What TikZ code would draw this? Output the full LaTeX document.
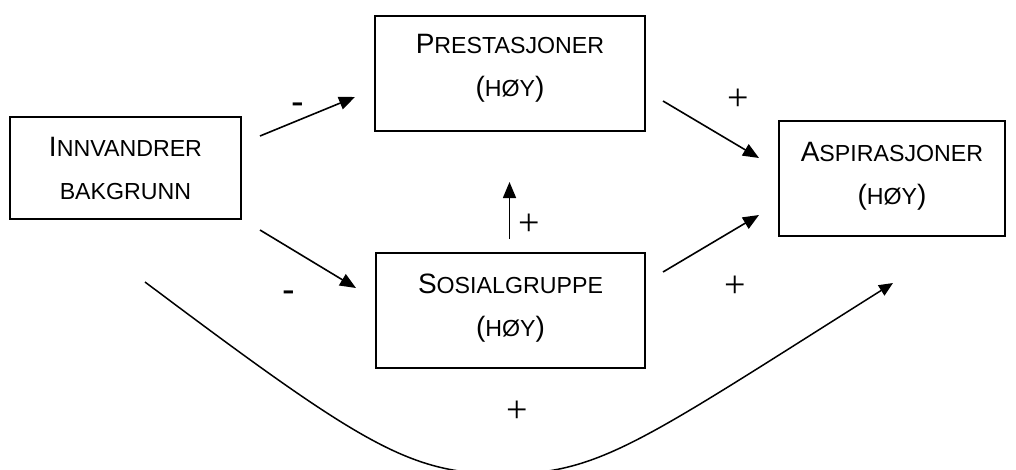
\documentclass[tikz,border=0pt]{standalone}
\usepackage{fontspec}
\setmainfont{Liberation Sans}
\newfontfamily\plusfont{Liberation Serif}
\usetikzlibrary{arrows.meta}
\newcommand\smc[1]{{\fontsize{23.2}{43}\selectfont #1}}
\begin{document}
\begin{tikzpicture}[x=1pt,y=-1pt,
  box/.style={draw,line width=1.6pt,rectangle,inner sep=0pt,align=center,font=\fontsize{28}{43}\selectfont},
  arr/.style={line width=1.6pt,-{Triangle[length=16pt,width=13pt]}},
  curvearr/.style={line width=1.5pt,-{Triangle[length=14pt,width=12pt]}},
  plus/.style={inner sep=0pt,font=\plusfont\fontsize{38}{38}\selectfont},
  minus/.style={inner sep=0pt,font=\fontsize{38}{38}\selectfont}]
\useasboundingbox (0,0) rectangle (1016,469);
\clip (0,0) rectangle (1016,469);
\fill[white] (0,0) rectangle (1016,469);

\node[box,minimum width=231pt,minimum height=102pt] (innv) at (125.5,168) {I\smc{NNVANDRER}\\\smc{BAKGRUNN}};
\node[box,minimum width=270pt,minimum height=115pt,text depth=16pt] (prest) at (510,73.5) {P\smc{RESTASJONER}\\(\smc{HØY})};
\node[box,minimum width=226pt,minimum height=115pt,text depth=11pt] (asp) at (892,178.5) {A\smc{SPIRASJONER}\\(\smc{HØY})};
\node[box,minimum width=269pt,minimum height=115pt,text depth=11pt] (sos) at (510.5,310.5) {S\smc{OSIALGRUPPE}\\(\smc{HØY})};

\coordinate (a1s) at (260,136); \coordinate (a1e) at (355,97);
\coordinate (a2s) at (260,230); \coordinate (a2e) at (356,288);
\coordinate (a3s) at (509.5,239); \coordinate (a3e) at (509.5,182);
\coordinate (a4s) at (663,101); \coordinate (a4e) at (759,158);
\coordinate (a5s) at (663,272); \coordinate (a5e) at (759,215);
\coordinate (cs) at (145,282); \coordinate (cm) at (505,474); \coordinate (ce) at (893,283);

\draw[arr] (a1s) -- (a1e);
\draw[arr] (a2s) -- (a2e);
\draw[arr] (a3s) -- (a3e);
\draw[arr] (a4s) -- (a4e);
\draw[arr] (a5s) -- (a5e);
\draw[curvearr] (cs) .. controls (365,447) and (410,474) .. (cm) .. controls (600,474) and (643,440.5) .. (ce);

\node[minus] (m1) at (297.7,108.4) {-};
\node[minus] (m2) at (289,296.4) {-};
\node[plus] (p1) at (529,225) {+};
\node[plus] (p2) at (738,100) {+};
\node[plus] (p3) at (735,287) {+};
\node[plus] (p4) at (517,412) {+};
\end{tikzpicture}
\end{document}
